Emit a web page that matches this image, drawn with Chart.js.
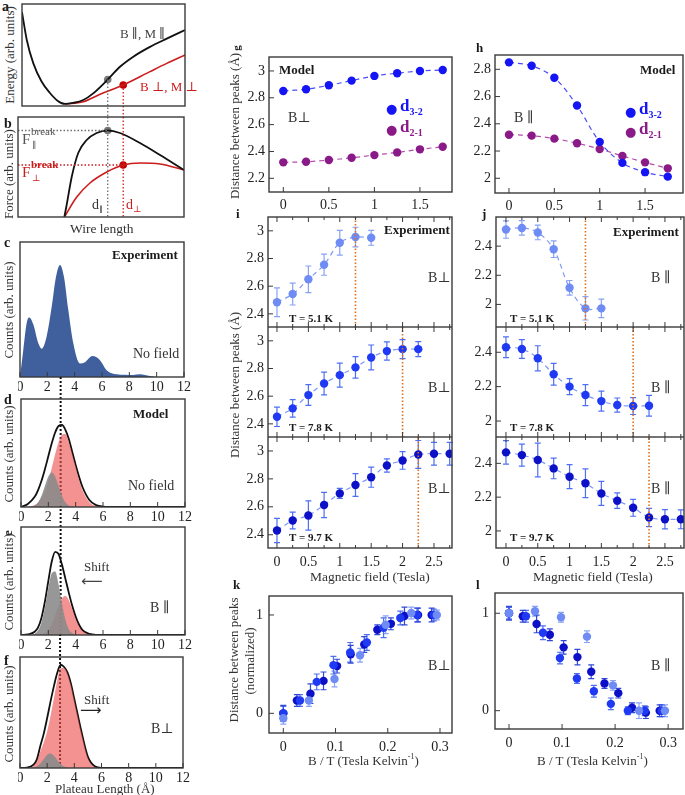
<!DOCTYPE html>
<html>
<head>
<meta charset="utf-8">
<script src="https://cdn.jsdelivr.net/npm/chart.js@4.4.1/dist/chart.umd.min.js"></script>
<style>
  body { margin: 0; background: #fff; }
  #fig { position: relative; width: 685px; height: 795px; overflow: hidden;
         font-family: "Liberation Serif", "DejaVu Serif", serif; color: #333; }
  #fig canvas { position: absolute; }
  .t { position: absolute; white-space: nowrap; font-size: 14px; line-height: 1; }
</style>
</head>
<body>
<div id="fig"></div>
<script>
// ---------- a, b : energy / force against wire length (arb. units)
const wireE = [0, 0.29, 0.69, 1.2, 1.7, 2.2, 2.64, 3.13, 3.76, 4.37, 5.26, 6.01, 6.83, 7.85, 8.88, 10];
const energyPar = [9.2, 6.5, 4.2, 2.4, 1.3, 0.5, 0.2, 0.3, 0.59, 1.24, 2.6, 3.85, 4.84, 5.8, 6.6, 7.45];
const wireEPerp = [2.64, 3.76, 4.79, 6.21, 7.85, 8.88, 10];
const energyPerp = [0.2, 0.42, 1.15, 2.06, 3.37, 4.18, 5.0];
const wireF = [2.6, 2.74, 3.05, 3.45, 3.97, 4.58, 5.26, 6.01, 7.24, 8.47, 9.94];
const forcePar = [0, 1.2, 4.0, 6.4, 7.7, 8.4, 8.65, 8.4, 7.4, 6.2, 4.7];
const wireFPerp = [2.6, 3.36, 4.17, 5.2, 6.21, 7.24, 8.47, 9.94];
const forcePerp = [0, 2.0, 3.4, 4.5, 5.2, 5.4, 5.3, 4.7];
const breakLen = [5.26, 6.21];   // d par, d perp
const breakE = [2.6, 2.06];
const breakF = [8.65, 5.2];

// ---------- c : experimental plateau length histogram
const plateauExp = [0, 0.24, 0.49, 0.68, 0.97, 1.34, 1.59, 1.95, 2.32, 2.63, 2.93, 3.22, 3.53, 3.9, 4.39, 4.76, 5.3, 5.85, 6.34, 7.07, 8.27, 8.78, 9.5, 10, 12];
const countsExp = [0, 0.2, 0.4, 0.44, 0.39, 0.25, 0.21, 0.3, 0.52, 0.74, 0.83, 0.74, 0.5, 0.25, 0.1, 0.11, 0.155, 0.125, 0.05, 0.02, 0.015, 0.02, 0.007, 0, 0];
const peakExp = 2.93;

// ---------- d, e, f : model histograms
const plateauModel = [0, 0.5, 1, 1.25, 1.5, 1.75, 2, 2.25, 2.5, 2.75, 3, 3.25, 3.5, 3.75, 4, 4.25, 4.5, 5, 5.5, 6, 7, 12];
const dGrey = [0, 0, 0.014, 0.043, 0.104, 0.194, 0.282, 0.32, 0.282, 0.194, 0.104, 0.043, 0.014, 0.004, 0, 0, 0, 0, 0, 0, 0, 0];
const dRed  = [0, 0.003, 0.018, 0.04, 0.081, 0.147, 0.24, 0.36, 0.49, 0.6, 0.668, 0.675, 0.6, 0.49, 0.37, 0.25, 0.155, 0.045, 0.009, 0.001, 0, 0];
const dSum  = [0, 0.028, 0.094, 0.157, 0.243, 0.35, 0.47, 0.59, 0.69, 0.75, 0.76, 0.715, 0.63, 0.51, 0.39, 0.28, 0.185, 0.065, 0.017, 0.004, 0, 0];
const eGrey = [0, 0, 0.012, 0.043, 0.119, 0.256, 0.432, 0.572, 0.587, 0.467, 0.29, 0.141, 0.053, 0.016, 0.004, 0, 0, 0, 0, 0, 0, 0];
const eRed  = [0, 0, 0.002, 0.004, 0.007, 0.019, 0.048, 0.1, 0.18, 0.27, 0.34, 0.36, 0.32, 0.24, 0.15, 0.08, 0.035, 0.005, 0, 0, 0, 0];
const eSum  = [0, 0.005, 0.03, 0.07, 0.16, 0.31, 0.5, 0.68, 0.77, 0.75, 0.65, 0.52, 0.39, 0.27, 0.17, 0.095, 0.045, 0.01, 0.001, 0, 0, 0];
const fGrey = [0, 0, 0.005, 0.015, 0.04, 0.08, 0.12, 0.13, 0.11, 0.07, 0.035, 0.013, 0.004, 0, 0, 0, 0, 0, 0, 0, 0, 0];
const fRed  = [0, 0, 0.02, 0.06, 0.15, 0.23, 0.33, 0.47, 0.63, 0.79, 0.9, 0.9, 0.85, 0.75, 0.61, 0.47, 0.33, 0.09, 0.01, 0, 0, 0];
const fSum  = [0, 0.003, 0.03, 0.08, 0.2, 0.31, 0.45, 0.6, 0.74, 0.86, 0.93, 0.91, 0.86, 0.76, 0.62, 0.48, 0.34, 0.1, 0.015, 0, 0, 0];

// ---------- g, h : model peak distances
const fieldModel = [0, 0.25, 0.5, 0.75, 1, 1.25, 1.5, 1.75];
const gD32 = [2.851, 2.864, 2.893, 2.928, 2.963, 2.983, 3.0, 3.007];
const gD21 = [2.319, 2.323, 2.336, 2.353, 2.373, 2.393, 2.416, 2.435];
const hD32 = [2.851, 2.826, 2.738, 2.534, 2.267, 2.113, 2.045, 2.012];
const hD21 = [2.32, 2.313, 2.291, 2.257, 2.215, 2.164, 2.117, 2.073];

// ---------- i, j : experimental peak distances
const field = [0, 0.25, 0.5, 0.75, 1, 1.25, 1.5, 1.75, 2, 2.25, 2.5, 2.75];
const perp51 = [2.484, 2.543, 2.65, 2.755, 2.914, 2.955, 2.95];
const perp51Err = [0.104, 0.079, 0.096, 0.076, 0.089, 0.071, 0.054];
const perp78 = [2.451, 2.512, 2.608, 2.692, 2.752, 2.808, 2.88, 2.926, 2.94, 2.94];
const perp78Err = [0.07, 0.063, 0.075, 0.082, 0.087, 0.078, 0.09, 0.066, 0.069, 0.054];
const perp97 = [2.43, 2.502, 2.538, 2.613, 2.696, 2.756, 2.812, 2.896, 2.932, 2.975, 2.98, 2.98];
const perp97Err = [0.087, 0.06, 0.105, 0.09, 0.036, 0.081, 0.072, 0.048, 0.063, 0.1, 0.082, 0.082];
const par51 = [2.514, 2.525, 2.494, 2.379, 2.114, 1.973, 1.973];
const par51Err = [0.06, 0.05, 0.05, 0.057, 0.05, 0.08, 0.063];
const par78 = [2.429, 2.419, 2.365, 2.272, 2.2, 2.151, 2.116, 2.093, 2.087, 2.089];
const par78Err = [0.06, 0.055, 0.073, 0.063, 0.047, 0.061, 0.058, 0.041, 0.049, 0.06];
const par97 = [2.465, 2.449, 2.42, 2.37, 2.321, 2.282, 2.222, 2.179, 2.137, 2.08, 2.069, 2.069];
const par97Err = [0.069, 0.065, 0.1, 0.061, 0.071, 0.085, 0.071, 0.046, 0.05, 0.054, 0.057, 0.056];
const critField = [1.25, 2.0, 2.25];

// ---------- k, l : normalized against B/T
const bt51 = [0, 0.049, 0.098, 0.147, 0.196, 0.245, 0.294];
const bt78 = [0, 0.032, 0.064, 0.096, 0.128, 0.16, 0.192, 0.224, 0.256, 0.288];
const bt97 = [0, 0.026, 0.052, 0.077, 0.103, 0.129, 0.155, 0.18, 0.206, 0.232, 0.258, 0.284];
const kNorm51 = [-0.05, 0.13, 0.35, 0.59, 0.9, 1.02, 1.0];
const kErr51 = [0.06, 0.06, 0.08, 0.07, 0.09, 0.06, 0.05];
const kNorm78 = [0, 0.13, 0.32, 0.49, 0.62, 0.72, 0.87, 0.97, 1.0, 1.0];
const kErr78 = [0.07, 0.06, 0.08, 0.09, 0.1, 0.08, 0.1, 0.07, 0.07, 0.06];
const kNorm97 = [0, 0.13, 0.2, 0.33, 0.48, 0.6, 0.7, 0.85, 0.91, 0.99, 1.0, 1.0];
const kErr97 = [0.08, 0.06, 0.1, 0.09, 0.07, 0.09, 0.08, 0.05, 0.06, 0.09, 0.07, 0.07];
const lNorm51 = [1.0, 1.02, 0.96, 0.76, 0.26, 0.0, 0.0];
const lErr51 = [0.06, 0.05, 0.05, 0.06, 0.05, 0.08, 0.06];
const lNorm78 = [1.0, 0.97, 0.8, 0.54, 0.33, 0.2, 0.07, 0.0, 0.0, 0.0];
const lErr78 = [0.06, 0.06, 0.07, 0.06, 0.05, 0.06, 0.06, 0.04, 0.05, 0.06];
const lNorm97 = [1.0, 0.97, 0.89, 0.78, 0.65, 0.55, 0.4, 0.28, 0.18, 0.03, -0.02, 0.0];
const lErr97 = [0.07, 0.06, 0.09, 0.06, 0.07, 0.08, 0.07, 0.05, 0.05, 0.05, 0.06, 0.06];

const cLight = '#6f8cf5', cMid = '#1f3af2', cDark = '#0c10c6';
const cBlue = '#1414f5', cPurple = '#8a1a88';
const cOrange = '#e0701c', cRed = '#cc1c1c';

Chart.defaults.font.family = '"Liberation Serif", "DejaVu Serif", serif';
Chart.defaults.font.size = 13;
Chart.defaults.color = '#222';
Chart.defaults.animation = false;
Chart.defaults.events = [];

const fig = document.getElementById('fig');

function xy(xs, ys) { return ys.map((y, i) => ({ x: xs[i], y: y })); }

const errorBars = {
  id: 'errorBars',
  beforeDatasetsDraw(chart) {
    const ctx = chart.ctx, sy = chart.scales.y;
    chart.data.datasets.forEach((ds, i) => {
      if (!ds.errors) return;
      const pts = chart.getDatasetMeta(i).data;
      ctx.save();
      ctx.strokeStyle = ds.errorColor;
      ctx.lineWidth = 1.2;
      ctx.beginPath();
      ds.data.forEach((d, j) => {
        const x = pts[j].x;
        const y1 = sy.getPixelForValue(d.y - ds.errors[j]);
        const y2 = sy.getPixelForValue(d.y + ds.errors[j]);
        ctx.moveTo(x, y1); ctx.lineTo(x, y2);
        ctx.moveTo(x - 3, y1); ctx.lineTo(x + 3, y1);
        ctx.moveTo(x - 3, y2); ctx.lineTo(x + 3, y2);
      });
      ctx.stroke();
      ctx.restore();
    });
  }
};

function frameBox(o) {
  return {
    id: 'frame',
    afterDatasetsDraw(chart) {
      const a = chart.chartArea, ctx = chart.ctx;
      const sx = chart.scales.x, sy = chart.scales.y;
      ctx.save();
      ctx.strokeStyle = '#3a3a3a';
      ctx.lineWidth = 1;
      ctx.beginPath();
      const major = sx.ticks.map(t => t.value);
      const minor = o.minor || [];
      major.concat(minor).forEach(v => {
        const p = sx.getPixelForValue(v);
        const len = minor.includes(v) ? 3 : 5;
        ctx.moveTo(p, a.bottom); ctx.lineTo(p, a.bottom - len);
        if (o.top) { ctx.moveTo(p, a.top); ctx.lineTo(p, a.top + len); }
      });
      sy.ticks.forEach(t => {
        const p = sy.getPixelForValue(t.value);
        ctx.moveTo(a.left, p); ctx.lineTo(a.left + 5, p);
      });
      ctx.stroke();
      ctx.lineWidth = 1.4;
      ctx.strokeRect(a.left, a.top, a.right - a.left, a.bottom - a.top);
      ctx.restore();
    }
  };
}

function axis(s, dir, size) {
  return {
    type: 'linear',
    min: s.min, max: s.max,
    grid: { display: false, drawTicks: false },
    border: { display: false },
    ticks: {
      display: !!s.labels,
      padding: s.pad || 3,
      color: '#222',
      font: { size: 14 },
      callback: v => String(v)
    },
    afterBuildTicks: sc => { sc.ticks = (s.ticks || []).map(v => ({ value: v })); },
    afterFit: sc => {
      if (dir === 'x') sc.height = size; else sc.width = size;
      // keep the plot area exactly where the box says
      sc.paddingTop = 0; sc.paddingBottom = 0; sc.paddingLeft = 0; sc.paddingRight = 0;
    }
  };
}

// box = [left, top, width, height] of the plot area, m = [left, top, right, bottom] margins
function panel(box, m, sx, sy, datasets, frameOpts) {
  const W = box[2] + m[0] + m[2], H = box[3] + m[1] + m[3];
  const cv = document.createElement('canvas');
  cv.width = W; cv.height = H;
  cv.style.left = (box[0] - m[0]) + 'px';
  cv.style.top = (box[1] - m[1]) + 'px';
  cv.style.width = W + 'px'; cv.style.height = H + 'px';
  fig.appendChild(cv);
  return new Chart(cv, {
    type: 'scatter',
    data: { datasets: datasets },
    options: {
      responsive: false,
      devicePixelRatio: 1,
      layout: { autoPadding: false, padding: { left: 0, top: m[1], right: m[2], bottom: 0 } },
      scales: { x: axis(sx, 'x', m[3]), y: axis(sy, 'y', m[0]) },
      plugins: { legend: { display: false }, tooltip: { enabled: false } }
    },
    plugins: [errorBars, frameBox(frameOpts || {})]
  });
}

function curve(xs, ys, color, width, extra) {
  return Object.assign({
    data: xy(xs, ys), showLine: true, borderColor: color, borderWidth: width,
    pointRadius: 0, tension: 0.4, cubicInterpolationMode: 'monotone', fill: false
  }, extra || {});
}
function area(xs, ys, color) {
  return curve(xs, ys, 'rgba(0,0,0,0)', 0, { fill: 'origin', backgroundColor: color });
}
function guide(x0, y0, x1, y1, color) {
  return {
    data: [{ x: x0, y: y0 }, { x: x1, y: y1 }], showLine: true, borderColor: color,
    borderWidth: 1.3, borderDash: [1.5, 2], pointRadius: 0, clip: false
  };
}
function dots(xs, ys, color, r) {
  return { data: xy(xs, ys), showLine: false, pointRadius: r, pointBackgroundColor: color, pointBorderWidth: 0 };
}
function series(xs, ys, color, lineColor, errs, errColor) {
  return {
    data: xy(xs, ys), showLine: true, borderColor: lineColor, borderWidth: 1.2, borderDash: [5, 4],
    tension: 0.35, pointRadius: 4.2, pointBackgroundColor: color, pointBorderColor: color,
    pointBorderWidth: 0, errors: errs, errorColor: errColor
  };
}
function marks(xs, ys, color, errs, errColor) {
  return {
    data: xy(xs, ys), showLine: false, pointRadius: 4.2, pointBackgroundColor: color,
    pointBorderWidth: 0, errors: errs, errorColor: errColor
  };
}

function txt(x, y, html, css) {
  const d = document.createElement('div');
  d.className = 't';
  d.style.left = x + 'px'; d.style.top = y + 'px';
  d.style.transform = 'translateY(-50%)';
  if (css) d.style.cssText += css;
  d.innerHTML = html;
  fig.appendChild(d);
}
function vtxt(x, y, html, css) {
  txt(x, y, html, 'transform:translate(-50%,-50%) rotate(-90deg);' + (css || ''));
}

// ---------------- left column
const grey = '#6e6e6e';
panel([22, 4, 163, 102], [2, 3, 4, 13], { min: 0, max: 10 }, { min: 0, max: 10 }, [
  guide(breakLen[0], breakE[0], breakLen[0], -1.15, grey),
  guide(breakLen[1], breakE[1], breakLen[1], -1.15, cRed),
  curve(wireE, energyPar, '#111', 1.8),
  curve(wireEPerp, energyPerp, cRed, 1.6),
  dots([breakLen[0]], [breakE[0]], '#7a7a7a', 3.8),
  dots([breakLen[1]], [breakE[1]], '#c40000', 3.8)
], {});

panel([18, 117, 166, 100], [2, 3, 4, 4], { min: -0.245, max: 9.94 }, { min: 0, max: 10 }, [
  guide(breakLen[0], 10, breakLen[0], 0, grey),
  guide(breakLen[1], 10, breakLen[1], 0, cRed),
  guide(-0.245, breakF[0], breakLen[0], breakF[0], grey),
  guide(-0.245, breakF[1], breakLen[1], breakF[1], cRed),
  curve(wireF, forcePar, '#111', 1.8),
  curve(wireFPerp, forcePerp, cRed, 1.6),
  dots([breakLen[0]], [breakF[0]], '#7a7a7a', 3.8),
  dots([breakLen[1]], [breakF[1]], '#c40000', 3.8)
], {});

const plateauTicks = [0, 2, 4, 6, 8, 10, 12];
const fillGrey = 'rgba(140,140,140,0.9)';
const fillRed = 'rgba(238,78,78,0.62)';

panel([20, 242, 164, 135], [2, 3, 8, 20], { min: 0, max: 12, ticks: plateauTicks, labels: true, pad: 2 }, { min: 0, max: 1 }, [
  area(plateauExp, countsExp, '#3f5f9d'),
  Object.assign(guide(peakExp, 0, peakExp, 0.83, '#ffffff'), { borderWidth: 2, borderDash: [2, 2] })
], {});

function modelPanel(box, m, grey_, red_, sum_, peakX, lineTop) {
  panel(box, m, { min: 0, max: 12, ticks: plateauTicks, labels: true, pad: 2 }, { min: 0, max: 1 }, [
    area(plateauModel, grey_, fillGrey),
    area(plateauModel, red_, fillRed),
    curve(plateauModel, sum_, '#111', 1.8),
    Object.assign(guide(peakX, 0, peakX, lineTop, '#111'), { borderWidth: 2, borderDash: [2, 2] })
  ], {});
}
modelPanel([21, 399, 164, 108], [2, 24, 8, 20], dGrey, dRed, dSum, 2.9, 1.21);
modelPanel([21, 527, 164, 108], [2, 22, 8, 20], eGrey, eRed, eSum, 2.9, 1.19);
modelPanel([20, 657, 163, 111], [2, 24, 8, 20], fGrey, fRed, fSum, 2.95, 1.2);

// ---------------- g, h
panel([269, 57, 183, 135], [34, 3, 4, 22], { min: -0.157, max: 1.852, ticks: [0, 0.5, 1, 1.5], labels: true, pad: 5 },
  { min: 2.098, max: 3.104, ticks: [2.2, 2.4, 2.6, 2.8, 3], labels: true, pad: 4 }, [
  series(fieldModel, gD32, cBlue, '#4a4af8'),
  series(fieldModel, gD21, cPurple, '#b24db0')
], {});
panel([495, 55, 188, 138], [34, 3, 2, 22], { min: -0.154, max: 1.918, ticks: [0, 0.5, 1, 1.5], labels: true, pad: 5 },
  { min: 1.892, max: 2.905, ticks: [2, 2.2, 2.4, 2.6, 2.8], labels: true, pad: 4 }, [
  series(fieldModel, hD32, cBlue, '#4a4af8'),
  series(fieldModel, hD21, cPurple, '#b24db0')
], {});

// ---------------- i, j
const minorField = [0.25, 0.75, 1.25, 1.75, 2.25, 2.75];
const iy = { min: 2.305, max: 3.1, ticks: [2.4, 2.6, 2.8, 3], labels: true, pad: 4 };
function fieldAxis(min, max, labels) {
  return { min: min, max: max, ticks: [0, 0.5, 1, 1.5, 2, 2.5], labels: labels, pad: 6 };
}
function expPanel(box, m, sx, sy, ys, errs, color, n, crit) {
  panel(box, m, sx, sy, [
    Object.assign(guide(crit, sy.min, crit, sy.max, cOrange), { borderWidth: 1.6, clip: 0 }),
    series(field.slice(0, n), ys, color, '#7d98f7', errs, color === cLight ? '#88a2f6' : '#4f6ff3')
  ], { minor: minorField, top: true });
}
expPanel([268, 217, 184, 110], [34, 3, 2, 0], fieldAxis(-0.143, 2.787, false), iy, perp51, perp51Err, cLight, 7, critField[0]);
expPanel([268, 327, 184, 110], [34, 0, 2, 0], fieldAxis(-0.143, 2.787, false), iy, perp78, perp78Err, cMid, 10, critField[1]);
expPanel([268, 437, 184, 111], [34, 0, 2, 22], fieldAxis(-0.143, 2.787, true), iy, perp97, perp97Err, cDark, 12, critField[2]);

const jTicks = [2, 2.2, 2.4];
expPanel([496, 217, 188, 110], [34, 3, 1, 0], fieldAxis(-0.157, 2.8, false), { min: 1.845, max: 2.6, ticks: jTicks, labels: true, pad: 4 }, par51, par51Err, cLight, 7, critField[0]);
expPanel([496, 327, 188, 110], [34, 0, 1, 0], fieldAxis(-0.157, 2.8, false), { min: 1.907, max: 2.547, ticks: jTicks, labels: true, pad: 4 }, par78, par78Err, cMid, 10, critField[1]);
expPanel([496, 437, 188, 111], [34, 0, 1, 22], fieldAxis(-0.157, 2.8, true), { min: 1.899, max: 2.556, ticks: jTicks, labels: true, pad: 4 }, par97, par97Err, cDark, 12, critField[2]);

// ---------------- k, l
const btTicks = [0, 0.1, 0.2, 0.3];
panel([269, 596, 183, 137], [34, 3, 4, 22], { min: -0.0274, max: 0.323, ticks: btTicks, labels: true, pad: 6 },
  { min: -0.2, max: 1.193, ticks: [0, 1], labels: true, pad: 6 }, [
  marks(bt51, kNorm51, cLight, kErr51, '#88a2f6'),
  marks(bt78, kNorm78, cMid, kErr78, '#4f6ff3'),
  marks(bt97, kNorm97, cDark, kErr97, '#3048d8')
], {});
panel([495, 593, 188, 136], [34, 3, 2, 22], { min: -0.0264, max: 0.328, ticks: btTicks, labels: true, pad: 6 },
  { min: -0.188, max: 1.208, ticks: [0, 1], labels: true, pad: 6 }, [
  marks(bt51, lNorm51, cLight, lErr51, '#88a2f6'),
  marks(bt78, lNorm78, cMid, lErr78, '#4f6ff3'),
  marks(bt97, lNorm97, cDark, lErr97, '#3048d8')
], {});

// ---------------- text
const B = 'font-weight:bold;color:#1a1a1a;';
const par = '\u2225', perp = '\u22A5';
txt(2, 7, 'a', B + 'font-size:14px');
txt(4, 124, 'b', B + 'font-size:14px');
txt(4, 243, 'c', B + 'font-size:14px');
txt(4, 400, 'd', B + 'font-size:14px');
vtxt(7, 533, 'e', B + 'font-size:13px');
txt(4, 661, 'f', B + 'font-size:14px');

const ttl = 'font-size:13px;color:#333';
vtxt(9, 55, 'Energy (arb. units)', ttl);
vtxt(8, 174, 'Force (arb. units)', ttl);
vtxt(8, 310, 'Counts (arb. units)', ttl);
vtxt(8, 454, 'Counts (arb. units)', ttl);
vtxt(8, 582, 'Counts (arb. units)', ttl);
vtxt(8, 714, 'Counts (arb. units)', ttl);

txt(120, 33, 'B ' + par + ', M ' + par, 'font-size:13px;color:#444');
txt(140, 86, 'B ' + perp + ', M ' + perp, 'font-size:13px;color:' + cRed);
txt(22, 139, 'F', 'font-size:15px;color:#555');
txt(31, 131, 'break', 'font-size:11px;color:#555');
txt(32, 145, par, 'font-size:9px;color:#555');
txt(22, 172, 'F', 'font-size:15px;color:' + cRed);
txt(31, 164, 'break', 'font-size:11px;color:' + cRed + ';font-weight:bold');
txt(32, 178, perp, 'font-size:9px;color:' + cRed);
txt(92, 206, 'd<sub style="font-size:8px">' + par + '</sub>', 'font-size:14px;color:#333');
txt(126, 206, 'd<sub style="font-size:9px">' + perp + '</sub>', 'font-size:14px;color:' + cRed);
txt(70, 229, 'Wire length', 'font-size:13.5px');

txt(112, 254, 'Experiment', B + 'font-size:13px');
txt(133, 354, 'No field', 'font-size:14px');
txt(133, 413, 'Model', B + 'font-size:13px');
txt(128, 486, 'No field', 'font-size:14px');
txt(84, 566, 'Shift', 'font-size:13px');
txt(81, 581, '\u27F5', 'font-size:15px;font-family:DejaVu Sans;color:#444');
txt(150, 608, 'B ' + par, 'font-size:14px');
txt(84, 699, 'Shift', 'font-size:13px');
txt(80, 710, '\u27F6', 'font-size:15px;font-family:DejaVu Sans;color:#222');
txt(151, 729, 'B' + perp, 'font-size:14px');
txt(55, 788, 'Plateau Length (\u00C5)', 'font-size:13px');

// right side
vtxt(236, 48, 'g', B + 'font-size:11px');
txt(476, 47, 'h', B + 'font-size:13px');
vtxt(234, 126, 'Distance between peaks (\u00C5)', ttl);
txt(279, 69, 'Model', B + 'font-size:13px');
txt(288, 118, 'B' + perp, 'font-size:14px');
txt(386, 108, '\u25CF', 'font-size:13px;font-family:DejaVu Sans;color:' + cBlue);
txt(400, 107, 'd<sub style="font-size:10px">3-2</sub>', B + 'font-size:17px;color:' + cBlue);
txt(386, 129, '\u25CF', 'font-size:13px;font-family:DejaVu Sans;color:' + cPurple);
txt(400, 128, 'd<sub style="font-size:10px">2-1</sub>', B + 'font-size:17px;color:' + cPurple);
txt(640, 69, 'Model', B + 'font-size:13px');
txt(514, 118, 'B ' + par, 'font-size:14px');
txt(625, 111, '\u25CF', 'font-size:13px;font-family:DejaVu Sans;color:' + cBlue);
txt(639, 110, 'd<sub style="font-size:10px">3-2</sub>', B + 'font-size:17px;color:' + cBlue);
txt(625, 131, '\u25CF', 'font-size:13px;font-family:DejaVu Sans;color:' + cPurple);
txt(639, 130, 'd<sub style="font-size:10px">2-1</sub>', B + 'font-size:17px;color:' + cPurple);

txt(236, 213, 'i', B + 'font-size:13px');
txt(482, 213, 'j', B + 'font-size:13px');
vtxt(234, 385, 'Distance between peaks (\u00C5)', ttl);
txt(384, 229, 'Experiment', B + 'font-size:13px');
txt(613, 231, 'Experiment', B + 'font-size:13px');
[278, 388, 489].forEach(y => {
  txt(428, y, 'B' + perp, 'font-size:14px');
  txt(651, y, 'B ' + par, 'font-size:14px');
});
const temps = ['T = 5.1 K', 'T = 7.8 K', 'T = 9.7 K'];
[318, 427, 537].forEach((y, i) => {
  txt(289, y, temps[i], B + 'font-size:11px');
  txt(510, y, temps[i], B + 'font-size:11px');
});
txt(310, 577, 'Magnetic field (Tesla)', 'font-size:13.5px');
txt(533, 577, 'Magnetic field (Tesla)', 'font-size:13.5px');

txt(233, 584, 'k', B + 'font-size:13px');
txt(476, 584, 'l', B + 'font-size:13px');
vtxt(233, 660, 'Distance between peaks', ttl);
vtxt(249, 661, '(normalized)', ttl);
txt(428, 666, 'B' + perp, 'font-size:14px');
txt(651, 666, 'B ' + par, 'font-size:14px');
txt(308, 760, 'B / T (Tesla Kelvin<sup style="font-size:8px">-1</sup>)', 'font-size:13px');
txt(537, 760, 'B / T (Tesla Kelvin<sup style="font-size:8px">-1</sup>)', 'font-size:13px');
</script>
</body>
</html>
